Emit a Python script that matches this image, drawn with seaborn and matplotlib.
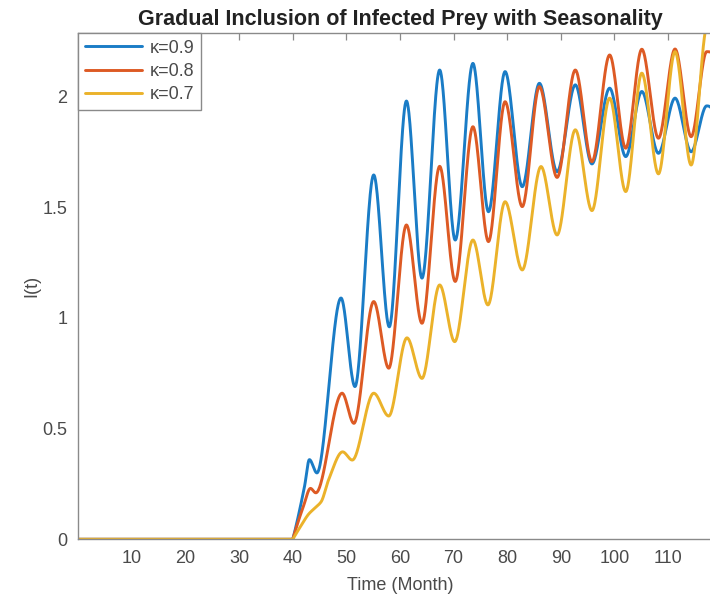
import numpy as np
import pandas as pd
import matplotlib
matplotlib.use("Agg")
import matplotlib.pyplot as plt
import seaborn as sns

# Knot points (month, I(t)) for each curve: extrema and shape points
t_09 = [0, 40, 42.2, 43.1, 44.5, 49.0, 51.6, 55.1, 58.0, 61.2, 64.1, 67.4, 70.3,
        73.6, 76.5, 79.6, 82.8, 86.0, 89.3, 92.7, 95.8, 99.1, 102.1, 105.1,
        108.2, 111.3, 114.3, 117.2, 118.0]
i_09 = [0, 0, 0.24, 0.36, 0.30, 1.09, 0.69, 1.646, 0.96, 1.98, 1.18, 2.12, 1.352,
        2.15, 1.48, 2.113, 1.593, 2.06, 1.661, 2.053, 1.696, 2.038, 1.729, 2.023,
        1.744, 1.993, 1.751, 1.958, 1.95]

t_08 = [0, 40, 42.0, 43.3, 44.3, 49.2, 51.4, 55.1, 57.9, 61.2, 64.1, 67.4, 70.3,
        73.6, 76.5, 79.6, 82.8, 86.0, 89.3, 92.7, 95.8, 99.1, 102.1, 105.1,
        108.2, 111.3, 114.3, 117.2, 118.0]
i_08 = [0, 0, 0.15, 0.23, 0.21, 0.66, 0.524, 1.074, 0.773, 1.42, 0.976, 1.685, 1.165,
        1.864, 1.345, 1.977, 1.503, 2.045, 1.635, 2.12, 1.706, 2.188, 1.767, 2.214,
        1.812, 2.215, 1.819, 2.203, 2.20]

t_07 = [0, 40, 41.5, 43.0, 44.3, 45.3, 46.7, 49.3, 51.1, 55.1, 57.9, 61.3, 64.1,
        67.4, 70.2, 73.6, 76.4, 79.6, 82.8, 86.3, 89.3, 92.7, 95.8, 99.1, 102.1,
        105.1, 108.2, 111.3, 114.3, 117.3, 118.0]
i_07 = [0, 0, 0.06, 0.115, 0.145, 0.17, 0.27, 0.395, 0.358, 0.66, 0.557, 0.91, 0.727,
        1.149, 0.893, 1.352, 1.059, 1.525, 1.217, 1.684, 1.375, 1.85, 1.485, 1.993,
        1.571, 2.106, 1.651, 2.203, 1.691, 2.32, 2.30]

labels = ["κ=0.9", "κ=0.8", "κ=0.7"]
colors = ["#1a7cc6", "#dd5a24", "#ebb22a"]

x_ticks = [10, 20, 30, 40, 50, 60, 70, 80, 90, 100, 110]
y_ticks = [0, 0.5, 1, 1.5, 2]
y_ticklabels = ["0", "0.5", "1", "1.5", "2"]


def pchip(x, y, xs):
    """Shape-preserving piecewise cubic Hermite curve through the knots."""
    x = np.asarray(x, float)
    y = np.asarray(y, float)
    h = np.diff(x)
    d = np.diff(y) / h
    n = len(x)
    m = np.zeros(n)
    for k in range(1, n - 1):
        if d[k - 1] * d[k] > 0:
            w1 = 2 * h[k] + h[k - 1]
            w2 = h[k] + 2 * h[k - 1]
            m[k] = (w1 + w2) / (w1 / d[k - 1] + w2 / d[k])

    def end_slope(h0, h1, d0, d1):
        s = ((2 * h0 + h1) * d0 - h0 * d1) / (h0 + h1)
        if np.sign(s) != np.sign(d0):
            s = 0.0
        elif np.sign(d0) != np.sign(d1) and abs(s) > abs(3 * d0):
            s = 3 * d0
        return s

    m[0] = end_slope(h[0], h[1], d[0], d[1])
    m[-1] = end_slope(h[-1], h[-2], d[-1], d[-2])
    idx = np.clip(np.searchsorted(x, xs) - 1, 0, n - 2)
    t = (xs - x[idx]) / h[idx]
    h00 = 2 * t**3 - 3 * t**2 + 1
    h10 = t**3 - 2 * t**2 + t
    h01 = -2 * t**3 + 3 * t**2
    h11 = t**3 - t**2
    return (h00 * y[idx] + h10 * h[idx] * m[idx]
            + h01 * y[idx + 1] + h11 * h[idx] * m[idx + 1])


def curve(tk, vk):
    # flat segment before onset, then smooth curve from the onset knot on
    dense = np.linspace(tk[1], tk[-1], 1200)
    tt = np.concatenate([[tk[0]], dense])
    vv = np.concatenate([[vk[0]], pchip(tk[1:], vk[1:], dense)])
    return tt, vv


frames = []
for tk, vk, lab in [(t_09, i_09, labels[0]), (t_08, i_08, labels[1]),
                    (t_07, i_07, labels[2])]:
    tt, vv = curve(tk, vk)
    frames.append(pd.DataFrame({"Time": tt, "I": vv, "kappa": lab}))
df = pd.concat(frames, ignore_index=True)

sns.set_style("white")
plt.rcParams["font.family"] = ["Liberation Sans", "DejaVu Sans"]

fig = plt.figure(figsize=(7.10, 6.07), dpi=100)
W, H = 710, 607
left_px, right_px, top_px, bottom_px = 78.3, 721.7, 33.3, 539.3
ax = fig.add_axes([left_px / W, 1 - bottom_px / H,
                   (right_px - left_px) / W, (bottom_px - top_px) / H])

sns.lineplot(data=df, x="Time", y="I", hue="kappa", hue_order=labels,
             palette=colors, estimator=None, sort=False, linewidth=2.1, ax=ax)

ax.set_xlim(0, 120)
ax.set_ylim(0, 2.286)
ax.set_xticks(x_ticks)
ax.set_xticklabels([str(v) for v in x_ticks])
ax.set_yticks(y_ticks)
ax.set_yticklabels(y_ticklabels)

axis_grey = "#8a8a8a"
text_grey = "#4a4a4a"
for side in ["left", "bottom", "top"]:
    ax.spines[side].set_color(axis_grey)
    ax.spines[side].set_linewidth(1.0)
ax.spines["right"].set_visible(False)
ax.tick_params(axis="both", direction="in", length=5, width=0.9,
               color=axis_grey, labelcolor=text_grey, labelsize=13,
               top=True, right=False, pad=8)

ax.set_xlabel("Time (Month)", fontsize=13, color=text_grey, labelpad=7)
ax.set_ylabel("I(t)", fontsize=13, color=text_grey, labelpad=1)
ax.set_title("Gradual Inclusion of Infected Prey with Seasonality",
             fontsize=15.5, fontweight="bold", color="#222222", pad=6)

handles, labs = ax.get_legend_handles_labels()
leg = ax.legend(handles, labs, loc="upper left", bbox_to_anchor=(0, 1),
                borderaxespad=0, fancybox=False, framealpha=1,
                edgecolor=axis_grey, fontsize=13, handlelength=3.2,
                handletextpad=0.4, labelspacing=0.35, borderpad=0.35)
leg.get_frame().set_linewidth(1.0)
for txt in leg.get_texts():
    txt.set_color(text_grey)

fig.savefig("out.png", dpi=100)
